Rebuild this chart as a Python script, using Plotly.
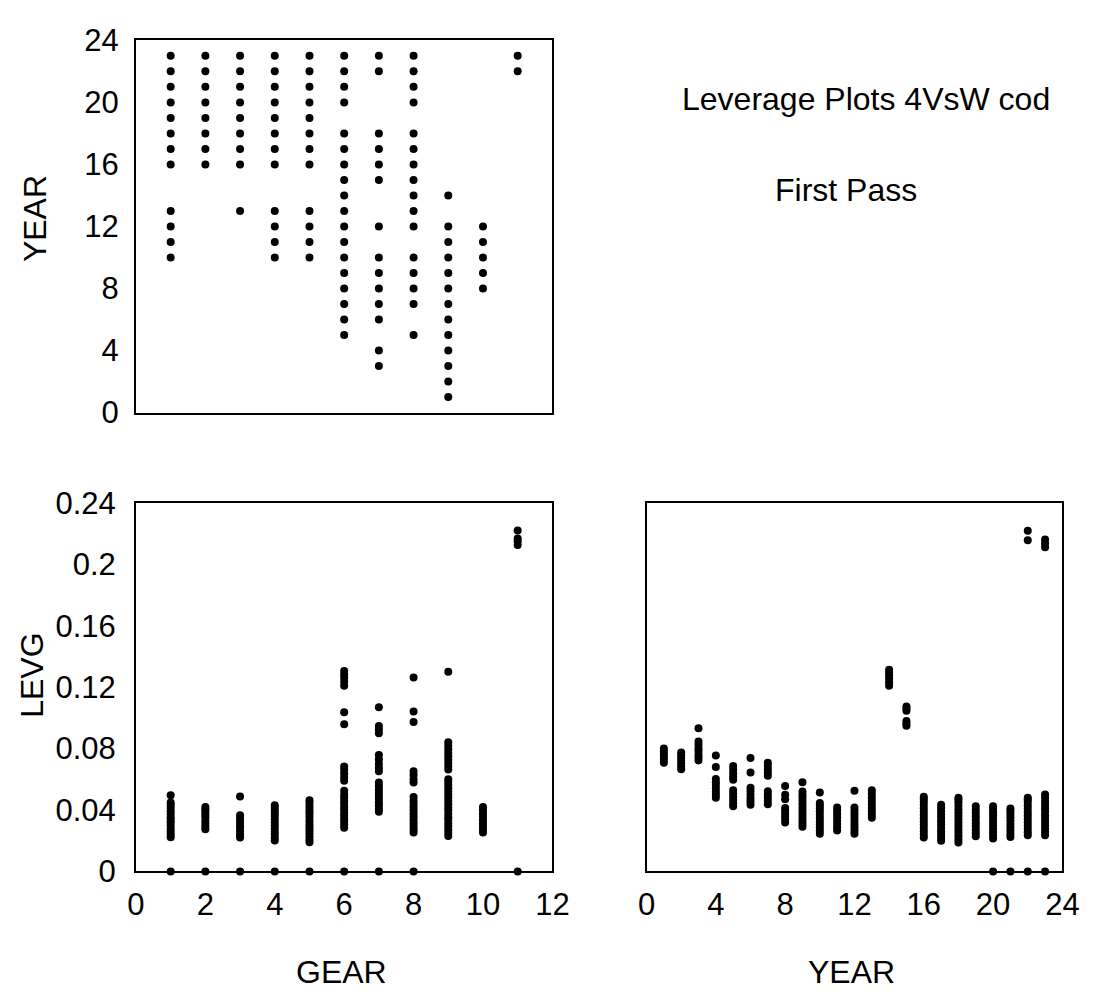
import plotly.graph_objects as go

# ---- Top-left panel: YEAR observed for each GEAR ----
gear_codes = [1, 2, 3, 4, 5, 6, 7, 8, 9, 10, 11]
years_by_gear = {
    1: [10, 11, 12, 13, 16, 17, 18, 19, 20, 21, 22, 23],
    2: [16, 17, 18, 19, 20, 21, 22, 23],
    3: [13, 16, 17, 18, 19, 20, 21, 22, 23],
    4: [10, 11, 12, 13, 16, 17, 18, 19, 20, 21, 22, 23],
    5: [10, 11, 12, 13, 16, 17, 18, 19, 20, 21, 22, 23],
    6: [5, 6, 7, 8, 9, 10, 11, 12, 13, 14, 15, 16, 17, 18, 20, 21, 22, 23],
    7: [3, 4, 6, 7, 8, 9, 10, 12, 15, 16, 17, 18, 22, 23],
    8: [5, 7, 8, 9, 10, 12, 13, 14, 15, 16, 17, 18, 20, 21, 22, 23],
    9: [1, 2, 3, 4, 5, 6, 7, 8, 9, 10, 11, 12, 14],
    10: [8, 9, 10, 11, 12],
    11: [22, 23],
}

# ---- Bottom-left panel: leverage by GEAR ----
levg_by_gear = {
    1: [0.0, 0.0222, 0.0238, 0.0259, 0.0276, 0.0297, 0.0318, 0.0335, 0.0352,
        0.0374, 0.0391, 0.0413, 0.0432, 0.0449, 0.0496],
    2: [0.0, 0.0274, 0.0292, 0.0311, 0.0330, 0.0352, 0.0371, 0.0389, 0.0405, 0.0420],
    3: [0.0, 0.0221, 0.0240, 0.0262, 0.0283, 0.0301, 0.0322, 0.0345, 0.0366, 0.0488],
    4: [0.0, 0.0201, 0.0219, 0.0240, 0.0258, 0.0281, 0.0299, 0.0318, 0.0340,
        0.0361, 0.0379, 0.0398, 0.0415, 0.0431],
    5: [0.0, 0.0190, 0.0208, 0.0227, 0.0249, 0.0268, 0.0287, 0.0305, 0.0326,
        0.0348, 0.0367, 0.0386, 0.0404, 0.0425, 0.0446, 0.0463],
    6: [0.0, 0.0284, 0.0302, 0.0323, 0.0341, 0.0362, 0.0380, 0.0401, 0.0419,
        0.0440, 0.0458, 0.0479, 0.0500, 0.0526, 0.0590, 0.0612, 0.0638, 0.0662,
        0.0684, 0.0958, 0.1036, 0.1210, 0.1235, 0.1262, 0.1283, 0.1305],
    7: [0.0, 0.0389, 0.0408, 0.0430, 0.0449, 0.0471, 0.0492, 0.0512, 0.0533,
        0.0556, 0.0579, 0.0653, 0.0676, 0.0700, 0.0729, 0.0758, 0.0900, 0.0925,
        0.0947, 0.1070],
    8: [0.0, 0.0253, 0.0272, 0.0293, 0.0314, 0.0335, 0.0356, 0.0377, 0.0398,
        0.0419, 0.0440, 0.0462, 0.0484, 0.0579, 0.0600, 0.0628, 0.0653, 0.0973,
        0.1042, 0.1263],
    9: [0.0231, 0.0250, 0.0272, 0.0293, 0.0312, 0.0334, 0.0353, 0.0374, 0.0396,
        0.0415, 0.0437, 0.0458, 0.0479, 0.0500, 0.0521, 0.0542, 0.0563, 0.0582,
        0.0600, 0.0663, 0.0684, 0.0706, 0.0728, 0.0750, 0.0772, 0.0795, 0.0818,
        0.0842, 0.1300],
    10: [0.0253, 0.0272, 0.0291, 0.0312, 0.0333, 0.0354, 0.0376, 0.0398, 0.0420],
    11: [0.0, 0.2127, 0.2150, 0.2169, 0.2221],
}

# ---- Bottom-right panel: leverage by YEAR ----
levg_by_year = {
    1: [0.0707, 0.0725, 0.0745, 0.0763, 0.0782, 0.0801],
    2: [0.0665, 0.0684, 0.0702, 0.0720, 0.0740, 0.0757, 0.0774],
    3: [0.0723, 0.0742, 0.0761, 0.0784, 0.0803, 0.0825, 0.0847, 0.0933],
    4: [0.0480, 0.0500, 0.0519, 0.0540, 0.0562, 0.0581, 0.0602, 0.0680, 0.0755],
    5: [0.0424, 0.0443, 0.0465, 0.0486, 0.0507, 0.0528, 0.0597, 0.0617, 0.0640,
        0.0663, 0.0686],
    6: [0.0434, 0.0455, 0.0477, 0.0500, 0.0523, 0.0545, 0.0644, 0.0738],
    7: [0.0438, 0.0459, 0.0480, 0.0501, 0.0522, 0.0623, 0.0645, 0.0666, 0.0688, 0.0707],
    8: [0.0319, 0.0338, 0.0358, 0.0377, 0.0396, 0.0413, 0.0470, 0.0500, 0.0556],
    9: [0.0290, 0.0310, 0.0330, 0.0351, 0.0372, 0.0393, 0.0414, 0.0437, 0.0458,
        0.0480, 0.0500, 0.0520, 0.0581],
    10: [0.0245, 0.0264, 0.0285, 0.0306, 0.0327, 0.0348, 0.0369, 0.0390, 0.0410,
         0.0428, 0.0445, 0.0514],
    11: [0.0267, 0.0287, 0.0308, 0.0330, 0.0352, 0.0374, 0.0396, 0.0417],
    12: [0.0245, 0.0265, 0.0286, 0.0307, 0.0329, 0.0351, 0.0373, 0.0395, 0.0417, 0.0526],
    13: [0.0350, 0.0370, 0.0391, 0.0413, 0.0436, 0.0459, 0.0482, 0.0505, 0.0528],
    14: [0.1210, 0.1232, 0.1255, 0.1276, 0.1295, 0.1314],
    15: [0.0948, 0.0963, 0.0979, 0.1047, 0.1060, 0.1074],
    16: [0.0220, 0.0240, 0.0261, 0.0283, 0.0304, 0.0325, 0.0347, 0.0369, 0.0390,
         0.0412, 0.0434, 0.0456, 0.0472, 0.0487],
    17: [0.0200, 0.0219, 0.0240, 0.0262, 0.0283, 0.0305, 0.0327, 0.0349, 0.0370,
         0.0392, 0.0413, 0.0434],
    18: [0.0189, 0.0208, 0.0229, 0.0251, 0.0273, 0.0295, 0.0317, 0.0339, 0.0361,
         0.0383, 0.0405, 0.0427, 0.0450, 0.0467, 0.0480],
    19: [0.0229, 0.0249, 0.0270, 0.0292, 0.0314, 0.0336, 0.0358, 0.0380, 0.0402, 0.0424],
    20: [0.0, 0.0214, 0.0234, 0.0255, 0.0277, 0.0299, 0.0321, 0.0343, 0.0365,
         0.0386, 0.0406, 0.0424],
    21: [0.0, 0.0224, 0.0244, 0.0265, 0.0287, 0.0309, 0.0331, 0.0353, 0.0374,
         0.0393, 0.0409],
    22: [0.0, 0.0235, 0.0255, 0.0276, 0.0298, 0.0320, 0.0342, 0.0364, 0.0386,
         0.0408, 0.0430, 0.0452, 0.0468, 0.0480, 0.2157, 0.2220],
    23: [0.0, 0.0235, 0.0256, 0.0278, 0.0300, 0.0322, 0.0344, 0.0366, 0.0388,
         0.0410, 0.0432, 0.0454, 0.0478, 0.0501, 0.2111, 0.2137, 0.2163],
}

gear_ticks = [0, 2, 4, 6, 8, 10, 12]
year_ticks = [0, 4, 8, 12, 16, 20, 24]
levg_ticks = [0, 0.04, 0.08, 0.12, 0.16, 0.2, 0.24]
levg_tick_text = ["0", "0.04", "0.08", "0.12", "0.16", "0.2", "0.24"]


def flatten(groups):
    xs, ys = [], []
    for key, vals in groups.items():
        xs.extend([key] * len(vals))
        ys.extend(vals)
    return xs, ys


FONT = "Liberation Sans, Arial, Helvetica, sans-serif"
dot = dict(color="black", size=8, line=dict(width=0))

fig = go.Figure()

gx, gy = flatten(years_by_gear)
fig.add_trace(go.Scatter(x=gx, y=gy, mode="markers", marker=dot,
                         xaxis="x", yaxis="y", cliponaxis=False))

lx, ly = flatten(levg_by_gear)
fig.add_trace(go.Scatter(x=lx, y=ly, mode="markers", marker=dot,
                         xaxis="x2", yaxis="y2", cliponaxis=False))

yx, yy = flatten(levg_by_year)
fig.add_trace(go.Scatter(x=yx, y=yy, mode="markers", marker=dot,
                         xaxis="x3", yaxis="y3", cliponaxis=False))

box = dict(showline=True, linecolor="black", linewidth=2, mirror=True,
           showgrid=False, zeroline=False, ticks="",
           tickfont=dict(family=FONT, size=31, color="black"))

left = [0.118, 0.505]
right = [0.5925, 0.979]
top = [0.593, 0.976]
bottom = [0.121, 0.5]

fig.update_layout(
    width=1102, height=1007,
    margin=dict(l=0, r=0, t=0, b=0),
    paper_bgcolor="white", plot_bgcolor="white",
    showlegend=False,
    xaxis=dict(box, domain=left, range=[0, 12], tickvals=gear_ticks,
               showticklabels=False, anchor="y"),
    yaxis=dict(box, domain=top, range=[0, 24], tickvals=year_ticks,
               ticklabelstandoff=9, anchor="x"),
    xaxis2=dict(box, domain=left, range=[0, 12], tickvals=gear_ticks,
                ticklabelstandoff=4, anchor="y2"),
    yaxis2=dict(box, domain=bottom, range=[0, 0.24], tickvals=levg_ticks,
                ticktext=levg_tick_text, ticklabelstandoff=12, anchor="x2"),
    xaxis3=dict(box, domain=right, range=[0, 24], tickvals=year_ticks,
                ticklabelstandoff=4, anchor="y3"),
    yaxis3=dict(box, domain=bottom, range=[0, 0.24], tickvals=levg_ticks,
                showticklabels=False, anchor="x3"),
)

label_font = dict(family=FONT, size=32, color="black")
notes = [
    dict(text="YEAR", x=0.0236, y=0.7925, textangle=-90),
    dict(text="LEVG", x=0.0218, y=0.3227, textangle=-90),
    dict(text="GEAR", x=0.3094, y=0.0179),
    dict(text="YEAR", x=0.7831, y=0.0179),
    dict(text="Leverage Plots 4VsW cod", x=0.7967, y=0.9156),
    dict(text="First Pass", x=0.7777, y=0.822),
]
for n in notes:
    fig.add_annotation(xref="paper", yref="paper", showarrow=False,
                       xanchor="center", yanchor="middle",
                       font=label_font, **n)

fig.write_html("out.html")
